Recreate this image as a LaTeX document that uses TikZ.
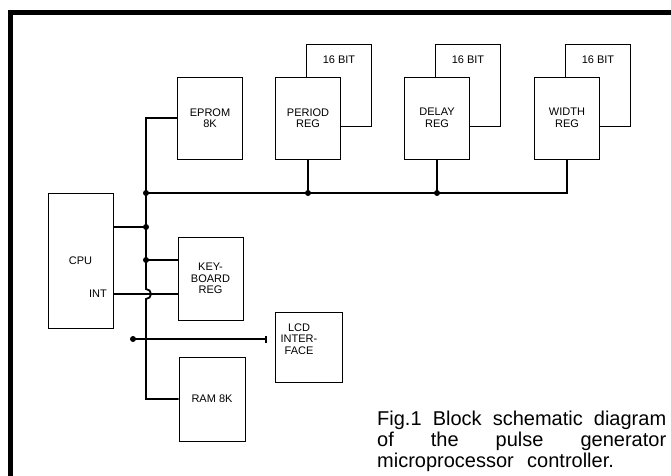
\documentclass[tikz,border=0pt]{standalone}
\usepackage{fontspec}
\setmainfont{Liberation Sans}
\usetikzlibrary{arrows.meta}
\begin{document}
\begin{tikzpicture}[x=1pt,y=-1pt,
        blk/.style={draw,line width=0.9pt,fill=white,minimum width=65pt,minimum height=82pt,
            align=center,inner sep=0pt,font=\fontsize{11}{11.5}\selectfont},
        lbl/.style={inner sep=0pt,font=\fontsize{11}{11.5}\selectfont},
        bus/.style={line width=1.8pt}]
    \useasboundingbox (0,0) rectangle (671,475);
    \draw[line width=5pt] (10,485) -- (10,12) -- (685,12);
    % 16 bit halves
    \node[blk] (periodb) at (339,85) {};
    \node[blk] (delayb) at (468,85) {};
    \node[blk] (widthb) at (598,85) {};
    \node[lbl] (periodbt) at ([yshift=-16pt]periodb.north) {16 BIT};
    \node[lbl] (delaybt) at ([yshift=-16pt]delayb.north) {16 BIT};
    \node[lbl] (widthbt) at ([yshift=-16pt]widthb.north) {16 BIT};
    % blocks
    \node[blk] (eprom) at (210,118) {EPROM\\8K};
    \node[blk] (period) at (308,118) {PERIOD\\REG};
    \node[blk] (delay) at (437,118) {DELAY\\REG};
    \node[blk] (width) at (567,118) {WIDTH\\REG};
    \node[blk,minimum height=135pt] (cpu) at (80.5,260.5) {CPU};
    \node[lbl,anchor=east] (int) at (107,294) {INT};
    \node[blk,minimum height=83pt] (keyreg) at (210.5,278.5) {KEY-\\BOARD\\REG};
    \node[blk,minimum width=67pt,minimum height=70pt] (lcd) at (308.5,347) {};
    \node[lbl,align=center] (lcdt) at (299,339) {LCD\\INTER-\\FACE};
    \node[blk,minimum width=66pt,minimum height=84pt] (ram) at (212,399) {RAM 8K};
    % bus
    \coordinate (vx) at (146,0);
    \coordinate (jbus) at (146,193);
    \coordinate (jcpu) at (146,227);
    \coordinate (jkey) at (146,260);
    \coordinate (jlcd) at (133,339);
    \draw[bus] (eprom.west) -- (vx |- eprom.west) -- ([yshift=5pt]vx |- int) arc (-90:90:5)
        -- (vx |- ram.west) -- (ram.west);
    \draw[bus] (jbus) -| (width.south);
    \draw[bus] (period.south) -- (period.south |- jbus);
    \draw[bus] (delay.south) -- (delay.south |- jbus);
    \draw[bus] (cpu.east |- jcpu) -- (jcpu);
    \draw[bus] (jkey) -- (keyreg.west |- jkey);
    \draw[bus] (cpu.east |- int) -- (keyreg.west |- int);
    \draw[bus,-{Bar[width=7pt]},shorten >=8pt] (jlcd) -- (lcd.west |- jlcd);
    \fill (jbus) circle (3pt) (jcpu) circle (3pt) (jkey) circle (3pt) (jlcd) circle (3pt)
        (period.south |- jbus) circle (3pt) (delay.south |- jbus) circle (3pt);
    % caption
    \node[anchor=base west,inner sep=0pt,text width=289pt,align=left,
        font=\fontsize{20}{21}\selectfont] (cap) at (377,425)
        {Fig.1\hfill Block\hfill schematic\hfill diagram\\of\hfill the\hfill pulse\hfill generator\\microprocessor\ \ controller.};
\end{tikzpicture}
\end{document}
